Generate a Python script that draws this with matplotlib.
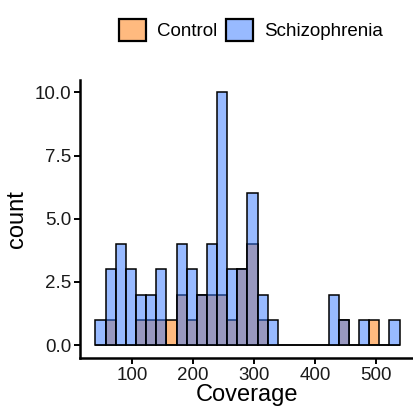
import numpy as np
import matplotlib
matplotlib.use("Agg")
import matplotlib.pyplot as plt
from matplotlib.patches import Patch

plt.rcParams['font.family'] = ['Liberation Sans', 'DejaVu Sans']

# histogram bins (30 bins)
BIN_START = 40.0
BIN_WIDTH = 16.6
control = [0, 1, 0, 0, 1, 1, 1, 1, 2, 1, 2, 2, 2, 1, 3, 4, 1, 0,
           0, 0, 0, 0, 0, 0, 1, 0, 0, 1, 0, 0]
schizo = [1, 3, 4, 3, 2, 2, 3, 0, 4, 3, 2, 4, 10, 3, 3, 6, 2, 1,
          0, 0, 0, 0, 0, 2, 1, 0, 1, 0, 0, 1]
groups = ["Control", "Schizophrenia"]
colors = ["#FF7700", "#3377FF"]

x_ticks = [100, 200, 300, 400, 500]
y_ticks = [0, 2.5, 5, 7.5, 10]

edges = BIN_START + BIN_WIDTH * np.arange(len(control))

fig = plt.figure(figsize=(4.13, 4.17), dpi=100)
ax = fig.add_axes([0.194, 0.142, 0.806, 0.667])

# control first, schizophrenia drawn over it (both half transparent)
for counts, col in zip([control, schizo], colors):
    ax.bar(edges, counts, width=BIN_WIDTH, align="edge",
           facecolor=matplotlib.colors.to_rgba(col, 0.5),
           edgecolor="black", linewidth=1.1)

ax.set_xlim(15, 560)
ax.set_ylim(-0.5, 10.5)
ax.set_xticks(x_ticks)
ax.set_yticks(y_ticks)
ax.set_yticklabels([f"{v:.1f}" for v in y_ticks])

for side in ["top", "right"]:
    ax.spines[side].set_visible(False)
for side in ["left", "bottom"]:
    ax.spines[side].set_linewidth(1.8)
ax.tick_params(axis="both", length=4.3, width=1.4, labelsize=13.5,
               color="black", labelcolor="#1a1a1a", pad=2)

ax.set_xlabel("Coverage", fontsize=17, labelpad=0)
ax.set_ylabel("count", fontsize=17, labelpad=5)

handles = [Patch(facecolor=matplotlib.colors.to_rgba(c, 0.5), edgecolor="black",
                 linewidth=1.6, label=g) for g, c in zip(groups, colors)]
fig.legend(handles=handles, loc="center", bbox_to_anchor=(0.608, 0.928),
           ncol=2, frameon=False, fontsize=13.5, handlelength=1.4,
           handleheight=1.4, handletextpad=0.6, columnspacing=0.5)

fig.savefig("out.png", dpi=100)
